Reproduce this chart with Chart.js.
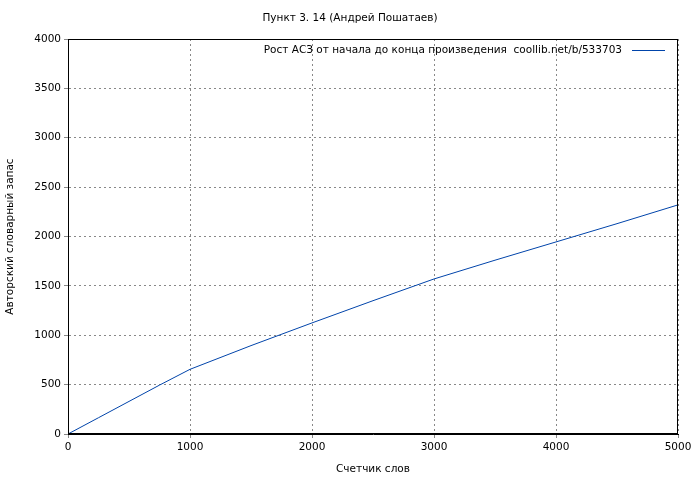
<!DOCTYPE html>
<html><head><meta charset="utf-8">
<script src="https://cdn.jsdelivr.net/npm/chart.js@4"></script>
<style>html,body{margin:0;padding:0;background:#fff}#w{width:700px;height:480px}</style>
</head><body><div id="w"><canvas id="c"></canvas></div>
<script>
const titleText = "Пункт 3. 14 (Андрей Пошатаев)";
const seriesLabel = "Рост АСЗ от начала до конца произведения  coollib.net/b/533703";
const xLabel = "Счетчик слов";
const yLabel = "Авторский словарный запас";
const wordCounts = [0,250,500,750,1000,1500,2000,2500,3000,3500,4000,4500,5000];
const vocab = [0,165,330,495,655,895,1125,1350,1570,1760,1945,2130,2320];
const F = "DejaVu Sans";
const FS = 10.5;
const overlay = {
  id:'overlay',
  afterDraw(ch){
    const c=ch.ctx, a=ch.chartArea;
    c.save();
    c.font=FS+"px '"+F+"'"; c.fillStyle="#000"; c.textBaseline="middle";
    c.textAlign="center"; c.fillText(titleText,350,18);
    c.textAlign="right"; c.fillText(seriesLabel,622,50);
    c.strokeStyle="#0044aa"; c.lineWidth=1;
    c.beginPath(); c.moveTo(632,50.5); c.lineTo(665,50.5); c.stroke();
    c.strokeStyle="#000";
    c.strokeRect(a.left+0.5,a.top+0.5,a.right-a.left-1,a.bottom-a.top-1);
    c.restore();
  }
};
const fmt = v => String(v);
new Chart(document.getElementById('c'),{
  type:'line',
  data:{datasets:[{label:seriesLabel,data:wordCounts.map((x,i)=>({x,y:vocab[i]})),borderColor:'#0044aa',borderWidth:1,pointRadius:0,tension:0}]},
  options:{
    responsive:true,maintainAspectRatio:false,animation:false,
    layout:{padding:{left:0,right:22,top:39,bottom:0}},
    plugins:{legend:{display:false},tooltip:{enabled:false}},
    scales:{
      x:{type:'linear',min:0,max:5000,
        ticks:{stepSize:1000,color:'#000',font:{family:F,size:FS},callback:fmt},
        grid:{color:'#888',tickLength:4},border:{display:true,dash:[2,3],color:'#000'},
        title:{display:true,text:xLabel,color:'#000',font:{family:F,size:FS}},
        afterFit(s){s.height=46;}},
      y:{min:0,max:4000,
        ticks:{stepSize:500,color:'#000',font:{family:F,size:FS},callback:fmt},
        grid:{color:'#888',tickLength:4},border:{display:true,dash:[2,3],color:'#000'},
        title:{display:true,text:yLabel,color:'#000',font:{family:F,size:FS}},
        afterFit(s){s.width=68;}}
    }
  },
  plugins:[overlay]
});
</script></body></html>
